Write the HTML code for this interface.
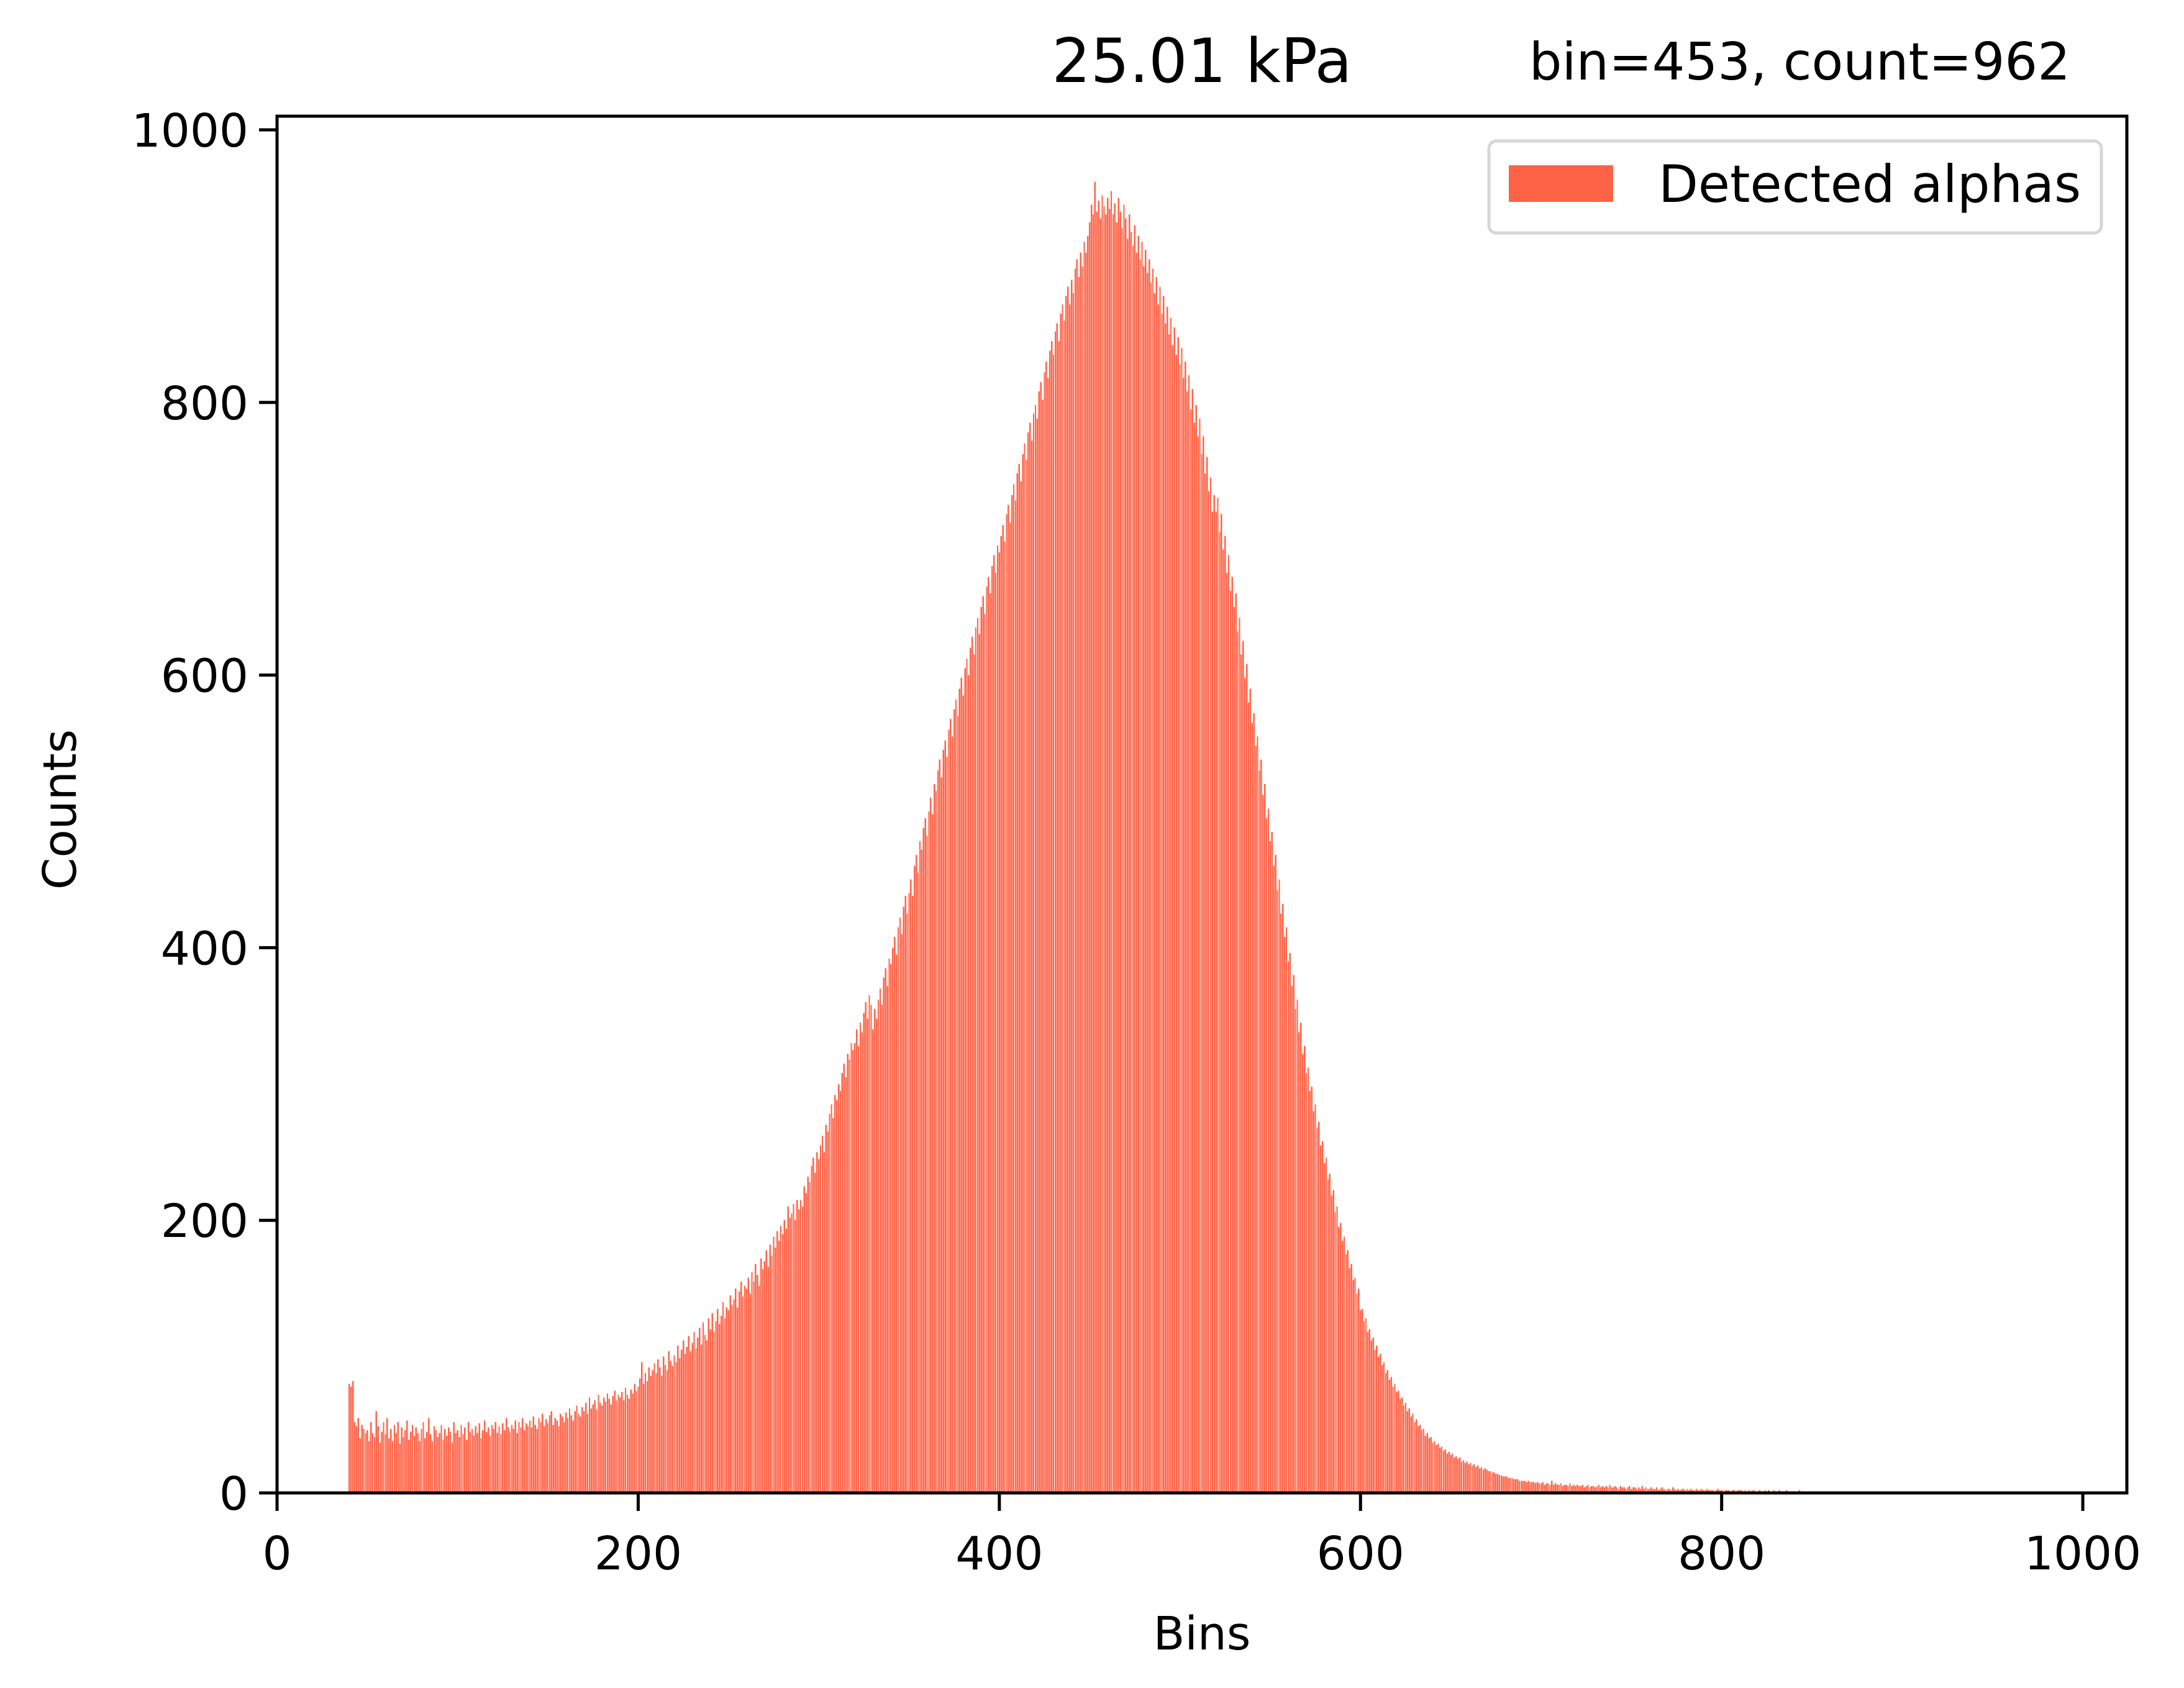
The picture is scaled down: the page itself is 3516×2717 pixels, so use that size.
<!DOCTYPE html>
<html><head><meta charset="utf-8"><style>
html,body{margin:0;padding:0;background:#fff;}
svg{display:block;font-family:"DejaVu Sans","Liberation Sans",sans-serif;}
</style></head><body>
<svg id="chart" width="3516" height="2717" viewBox="0 0 3516 2717" xmlns="http://www.w3.org/2000/svg">
<rect width="3516" height="2717" fill="#fff"/>
<g id="bars" shape-rendering="crispEdges"></g>
<g id="axes"></g>
<text x="1935" y="132" font-size="98" text-anchor="middle">25.01 kPa</text>
<text x="3333" y="128" font-size="83" text-anchor="end">bin=453, count=962</text>
<text x="1935" y="2655" font-size="74" text-anchor="middle">Bins</text>
<text x="0" y="0" font-size="74" text-anchor="middle" transform="translate(122,1303) rotate(-90)">Counts</text>
<g>
<rect x="2397" y="227" width="986" height="148" rx="12" fill="#fff" fill-opacity="0.8" stroke="#d6d6d6" stroke-width="5"/>
<rect x="2429" y="266" width="168" height="59" fill="#ff6347"/>
<text x="2670" y="325" font-size="83">Detected alphas</text>
</g>
</svg>
<script>
const startBin = 40;
const counts = [
80,78,82,52,49,55,40,50,47,44,
46,38,52,44,41,60,49,37,45,52,
43,55,40,47,38,50,44,52,36,48,
41,46,53,39,45,50,42,48,44,38,
47,52,40,45,55,43,38,49,46,41,
44,50,39,47,42,48,45,37,52,44,
46,41,50,43,48,39,52,45,47,42,
49,44,51,40,46,53,45,48,42,50,
47,52,44,49,43,51,46,55,48,45,
50,47,53,44,52,48,55,46,51,49,
53,48,56,50,47,55,52,58,49,54,
51,57,60,50,55,53,49,58,56,52,
59,55,62,57,53,60,64,58,56,63,
60,66,58,70,62,65,68,61,72,66,
64,70,67,73,69,65,71,75,68,72,
70,74,68,77,72,69,76,73,80,75,
78,84,96,80,88,82,92,86,90,95,
88,98,92,86,100,94,90,104,97,93,
101,96,108,99,105,112,102,107,115,104,
110,118,106,114,121,109,125,116,112,128,
120,132,118,126,135,124,130,140,128,136,
134,145,138,142,150,136,148,155,144,152,
150,158,146,162,155,168,160,152,172,164,
170,178,166,182,174,188,180,192,185,196,
190,200,194,210,202,205,212,200,215,208,
215,210,225,220,232,228,240,246,235,250,
245,255,262,250,270,265,278,285,275,292,
288,300,295,308,315,305,322,318,330,325,
330,340,328,345,338,352,360,348,365,358,
340,355,348,362,370,358,378,385,372,392,
388,400,408,395,415,422,410,430,438,425,
440,450,438,460,468,455,478,472,488,495,
482,500,510,498,520,515,530,538,525,545,
552,540,560,568,555,575,582,570,590,598,
585,605,612,600,620,628,615,635,642,630,
650,658,645,665,672,660,680,688,675,695,
690,702,710,698,718,725,712,732,740,728,
748,755,742,762,770,758,778,785,772,792,
798,788,808,815,802,822,830,818,838,845,
835,852,858,845,865,872,860,878,885,872,
890,880,898,905,892,910,900,918,910,922,
932,945,938,962,940,948,935,952,944,938,
950,942,955,938,946,932,950,940,928,945,
935,920,938,925,915,930,910,922,905,918,
900,912,895,905,888,898,880,892,872,885,
865,878,858,870,850,862,842,855,835,848,
828,840,818,830,808,820,795,810,785,798,
775,788,762,775,748,760,735,745,720,732,
720,730,705,718,692,702,675,688,662,672,
650,660,632,642,615,625,598,608,580,590,
565,572,548,555,530,538,512,520,495,502,
478,485,460,468,442,450,425,432,408,415,
390,396,372,380,355,362,338,345,322,328,
308,312,295,298,280,285,268,272,255,258,
242,246,230,234,218,222,206,210,195,198,
185,188,175,178,165,168,156,158,146,150,
134,135,126,128,118,120,112,114,105,108,
100,102,94,96,88,90,83,85,78,80,
74,75,69,70,64,66,60,62,56,58,
52,54,49,50,46,47,42,44,40,41,
37,38,35,36,33,34,31,32,29,30,
28,29,26,27,25,26,23,24,22,23,
21,22,20,21,19,20,18,19,17,18,
17,16,16,15,15,14,14,13,13,12,
12,12,11,11,11,10,10,10,9,9,
9,9,8,9,8,8,8,7,8,7,
7,8,6,7,7,6,9,6,7,6,
6,7,5,6,6,5,7,5,6,5,
6,5,5,6,4,5,6,4,5,5,
4,5,6,4,5,4,5,4,6,4,
4,5,4,3,5,4,4,3,4,5,
3,4,4,3,4,3,5,3,4,3,
3,4,3,3,4,2,3,4,3,2,
3,3,2,4,3,2,3,2,3,3,
2,3,2,3,2,2,3,2,2,3,
2,2,3,2,2,2,1,2,3,2,
2,1,2,2,2,1,2,2,1,2,
2,2,1,2,1,2,1,2,2,1,
1,2,1,1,2,1,2,1,1,2,
1,1,2,1,1,1,2,1,1,1,
1,1,1,2,1,1,1,1,1,1,
1,1,1,1,1,1,1,1,1,1,
1,1,0,1,1,0,1,1,0,1,
1,0,1,0,1,1,0,1,0,1,
1,0,1,0,0,1
];
const xTicks = [0, 200, 400, 600, 800, 1000];
const yTicks = [0, 200, 400, 600, 800, 1000];
const xDomain = [0, 1024.4];
const yDomain = [0, 1010];

const L = 446, R = 3424, T = 187, B = 2403;
const NS = 'http://www.w3.org/2000/svg';
function xs(v){ return L + (v - xDomain[0]) / (xDomain[1] - xDomain[0]) * (R - L); }
function ys(v){ return B - (v - yDomain[0]) / (yDomain[1] - yDomain[0]) * (B - T); }
function mk(tag, attrs){ const e = document.createElementNS(NS, tag); for (const k in attrs) e.setAttribute(k, attrs[k]); return e; }

const barsG = document.getElementById('bars');
counts.forEach((c, i) => {
  if (c <= 0) return;
  const b = startBin + i;
  const x0 = xs(b - 0.4), x1 = xs(b + 0.4);
  const r = mk('rect', {x: x0, y: ys(c), width: x1 - x0, height: B - ys(c), fill: '#ff6347'});
  
  
  barsG.appendChild(r);
});

const ax = document.getElementById('axes');
const frame = mk('rect', {x: L, y: T, width: R - L, height: B - T, fill: 'none', stroke: '#000', 'stroke-width': 5});


ax.appendChild(frame);
xTicks.forEach(t => {
  const x = xs(t);
  const ln = mk('line', {x1: x, x2: x, y1: B, y2: B + 29, stroke: '#000', 'stroke-width': 5});
  
  
  ax.appendChild(ln);
  const tx = mk('text', {x: x, y: 2526, 'font-size': 74, 'text-anchor': 'middle'});
  
  
  tx.textContent = t;
  ax.appendChild(tx);
});
yTicks.forEach(t => {
  const y = ys(t);
  const ln = mk('line', {x1: L - 29, x2: L, y1: y, y2: y, stroke: '#000', 'stroke-width': 5});
  
  
  ax.appendChild(ln);
  const tx = mk('text', {x: 400, y: y + 27, 'font-size': 74, 'text-anchor': 'end'});
  
  
  tx.textContent = t;
  ax.appendChild(tx);
});
</script>
</body></html>
